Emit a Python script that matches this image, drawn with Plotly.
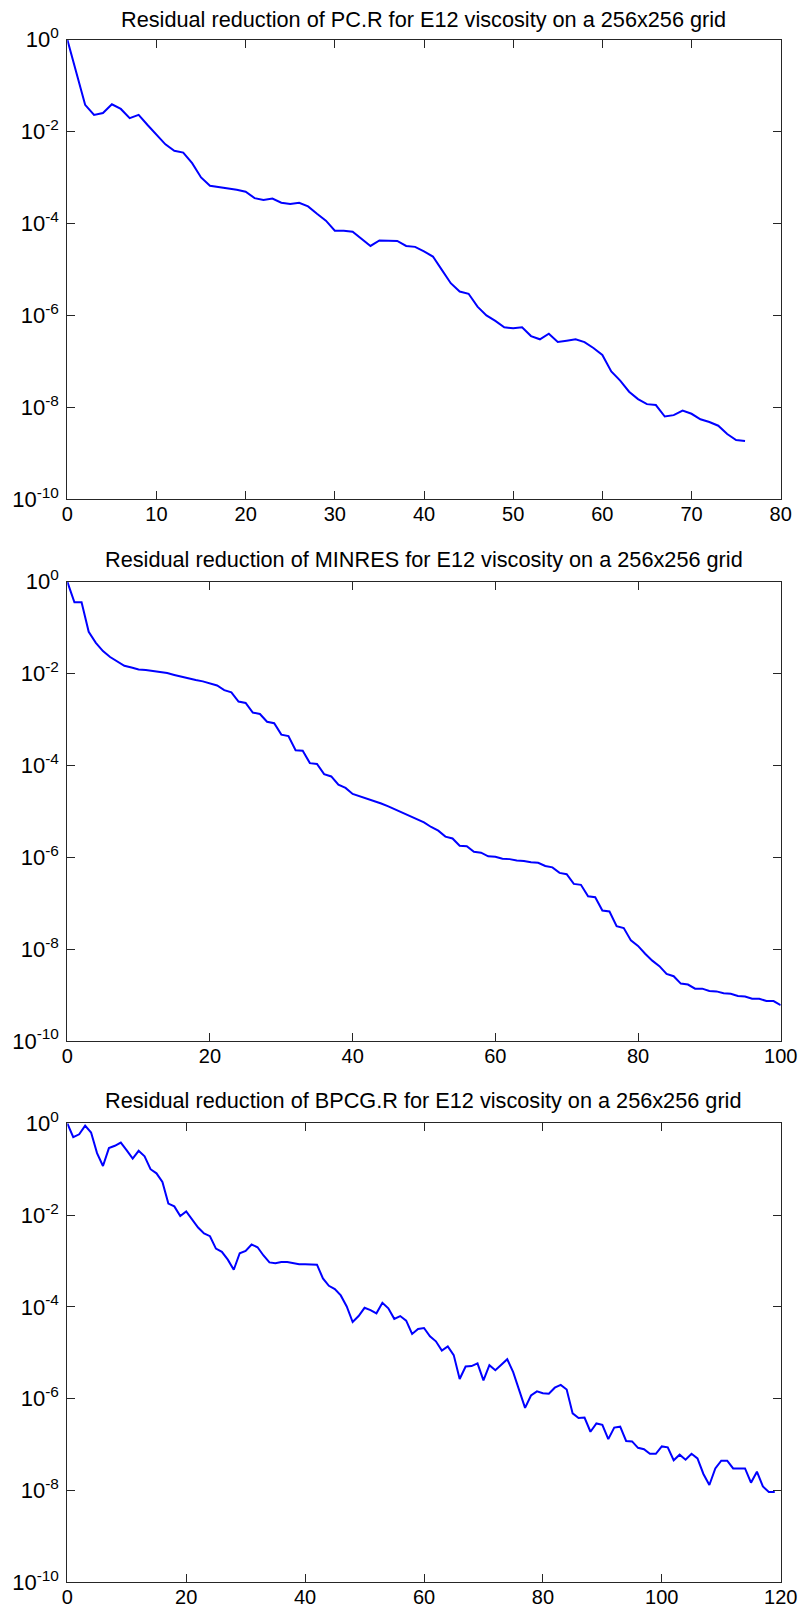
import plotly.graph_objects as go

# log10 of relative residual
pcr_log10 = [0, -0.71, -1.42, -1.64, -1.60, -1.41, -1.51, -1.71, -1.64, -1.86,
             -2.08, -2.28, -2.42, -2.46, -2.69, -3.00, -3.18, -3.21, -3.23, -3.27,
             -3.31, -3.45, -3.49, -3.46, -3.55, -3.58, -3.55, -3.63, -3.79, -3.94,
             -4.16, -4.16, -4.18, -4.34, -4.49, -4.37, -4.38, -4.38, -4.49, -4.51,
             -4.61, -4.72, -5.01, -5.30, -5.48, -5.53, -5.81, -6.00, -6.12, -6.26,
             -6.28, -6.26, -6.45, -6.52, -6.40, -6.58, -6.55, -6.52, -6.58, -6.71,
             -6.86, -7.22, -7.42, -7.66, -7.82, -7.93, -7.95, -8.20, -8.17, -8.07,
             -8.14, -8.26, -8.32, -8.40, -8.58, -8.71, -8.73]

minres_log10 = [0, -0.45, -0.45, -1.09, -1.33, -1.51, -1.64, -1.74, -1.83, -1.87,
                -1.91, -1.92, -1.94, -1.96, -1.99, -2.03, -2.07, -2.10, -2.14, -2.17,
                -2.21, -2.26, -2.36, -2.41, -2.61, -2.64, -2.85, -2.88, -3.05, -3.08,
                -3.33, -3.36, -3.67, -3.68, -3.95, -3.97, -4.19, -4.24, -4.42, -4.49,
                -4.62, -4.67, -4.73, -4.78, -4.83, -4.89, -4.96, -5.04, -5.11, -5.18,
                -5.24, -5.34, -5.42, -5.55, -5.59, -5.75, -5.76, -5.88, -5.90, -5.98,
                -5.99, -6.03, -6.04, -6.07, -6.08, -6.11, -6.12, -6.19, -6.22, -6.34,
                -6.37, -6.58, -6.60, -6.85, -6.87, -7.16, -7.18, -7.50, -7.54, -7.81,
                -7.93, -8.10, -8.25, -8.37, -8.54, -8.59, -8.75, -8.77, -8.86, -8.86,
                -8.91, -8.92, -8.96, -8.97, -9.02, -9.03, -9.08, -9.08, -9.13, -9.13,
                -9.22]

bpcgr_log10 = [0, -0.30, -0.24, -0.05, -0.20, -0.65, -0.93, -0.54, -0.49, -0.42,
               -0.59, -0.77, -0.60, -0.72, -1.00, -1.09, -1.28, -1.75, -1.81, -2.02,
               -1.92, -2.10, -2.27, -2.40, -2.46, -2.73, -2.80, -2.97, -3.19, -2.83,
               -2.78, -2.64, -2.70, -2.88, -3.03, -3.05, -3.02, -3.02, -3.05, -3.07,
               -3.07, -3.07, -3.08, -3.38, -3.54, -3.61, -3.75, -3.99, -4.33, -4.20,
               -4.02, -4.07, -4.14, -3.91, -4.03, -4.26, -4.20, -4.30, -4.59, -4.48,
               -4.46, -4.64, -4.75, -4.95, -4.86, -5.05, -5.57, -5.30, -5.29, -5.23,
               -5.60, -5.27, -5.38, -5.26, -5.14, -5.42, -5.83, -6.20, -5.93, -5.84,
               -5.88, -5.89, -5.76, -5.70, -5.80, -6.32, -6.42, -6.41, -6.72, -6.54,
               -6.57, -6.88, -6.63, -6.61, -6.92, -6.93, -7.07, -7.10, -7.20, -7.20,
               -7.04, -7.06, -7.34, -7.22, -7.33, -7.20, -7.30, -7.64, -7.88, -7.52,
               -7.35, -7.35, -7.52, -7.52, -7.52, -7.83, -7.59, -7.91, -8.03, -8.03]

titles = [
    "Residual reduction of PC.R for E12 viscosity on a 256x256 grid",
    "Residual reduction of MINRES for E12 viscosity on a 256x256 grid",
    "Residual reduction of BPCG.R for E12 viscosity on a 256x256 grid",
]
x_max = [80, 100, 120]
x_dtick = [10, 20, 20]
y_exponents = [0, -2, -4, -6, -8, -10]

series = [pcr_log10, minres_log10, bpcgr_log10]

W, H = 801, 1610
x0_px, x1_px = 67.3, 780.7
panel_px = [(39.5, 499.3), (581.7, 1041.0), (1123.3, 1582.3)]
title_px = [19.0, 559.0, 1100.5]

FONT = "Liberation Sans, Arial, sans-serif"

fig = go.Figure()
layout = dict(
    width=W, height=H,
    autosize=False,
    margin=dict(l=0, r=0, t=0, b=0, pad=0, autoexpand=False),
    paper_bgcolor="white", plot_bgcolor="white",
    showlegend=False,
    font=dict(family=FONT, size=20, color="black"),
    annotations=[],
)

for k in range(3):
    xa = "x" if k == 0 else f"x{k+1}"
    ya = "y" if k == 0 else f"y{k+1}"
    vals = series[k]
    fig.add_trace(go.Scatter(
        x=list(range(len(vals))),
        y=[10 ** v for v in vals],
        mode="lines",
        line=dict(color="#0000ff", width=2),
        xaxis=xa, yaxis=ya,
        hoverinfo="skip",
    ))
    top, bot = panel_px[k]
    axis_common = dict(
        showline=True, linecolor="#262626", linewidth=1,
        mirror="ticks", ticks="inside", ticklen=8, tickwidth=1,
        tickcolor="#262626", showgrid=False, zeroline=False,
        automargin=False,
    )
    layout["xaxis" if k == 0 else f"xaxis{k+1}"] = dict(
        domain=[x0_px / W, x1_px / W],
        anchor=ya,
        range=[0, x_max[k]],
        tickmode="linear", tick0=0, dtick=x_dtick[k],
        tickfont=dict(family=FONT, size=20, color="black"),
        ticklabelstandoff=-3,
        **axis_common,
    )
    layout["yaxis" if k == 0 else f"yaxis{k+1}"] = dict(
        domain=[1 - bot / H, 1 - top / H],
        anchor=xa,
        type="log",
        range=[-10, 0],
        tickmode="array",
        tickvals=[10 ** e for e in y_exponents],
        ticktext=[f"10<sup>{e}</sup>" for e in y_exponents],
        tickfont=dict(family=FONT, size=22, color="black"),
        ticklabelstandoff=3,
        **axis_common,
    )
    layout["annotations"].append(dict(
        text=titles[k], xref="paper", yref="paper",
        x=(x0_px + x1_px) / 2 / W, y=1 - title_px[k] / H,
        xanchor="center", yanchor="middle", showarrow=False,
        font=dict(family=FONT, size=21.7, color="black"),
    ))

fig.update_layout(**layout)
fig.write_html(
    "out.html",
    config={"displayModeBar": False},
    post_script=(
        "document.body.style.margin='0';"
        "document.body.style.padding='0';"
        "document.body.style.overflow='hidden';"
    ),
)
